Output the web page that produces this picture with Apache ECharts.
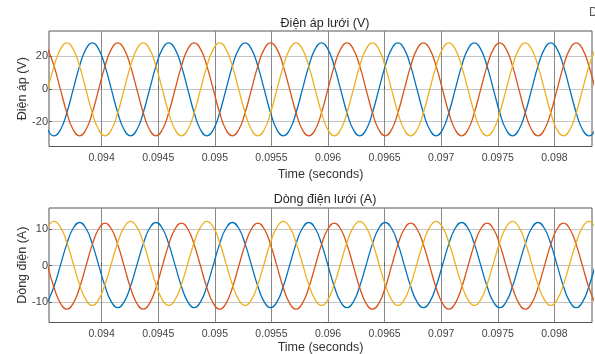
<!DOCTYPE html>
<html>
<head>
<meta charset="utf-8">
<script src="https://cdn.jsdelivr.net/npm/echarts@6/dist/echarts.min.js"></script>
<style>
html,body{margin:0;padding:0;background:#fff;}
#chart{width:595px;height:354px;}
</style>
</head>
<body>
<div id="chart"></div>
<script>
// Time samples (s)
var time = [
0.09352375,0.09358,0.09363625,0.0936925,0.09374875,0.093805,0.09386125,0.0939175,0.09397375,0.09403,0.09408625,0.0941425,
0.09419875,0.094255,0.09431125,0.0943675,0.09442375,0.09448,0.09453625,0.0945925,0.09464875,0.094705,0.09476125,0.0948175,
0.09487375,0.09493,0.09498625,0.0950425,0.09509875,0.095155,0.09521125,0.0952675,0.09532375,0.09538,0.09543625,0.0954925,
0.09554875,0.095605,0.09566125,0.0957175,0.09577375,0.09583,0.09588625,0.0959425,0.09599875,0.096055,0.09611125,0.0961675,
0.09622375,0.09628,0.09633625,0.0963925,0.09644875,0.096505,0.09656125,0.0966175,0.09667375,0.09673,0.09678625,0.0968425,
0.09689875,0.096955,0.09701125,0.0970675,0.09712375,0.09718,0.09723625,0.0972925,0.09734875,0.097405,0.09746125,0.0975175,
0.09757375,0.09763,0.09768625,0.0977425,0.09779875,0.097855,0.09791125,0.0979675,0.09802375,0.09808,0.09813625,0.0981925,
0.09824875,0.098305,0.09836125
];

// Grid voltage (V), three phases
var vA = [
-25.0,-28.8,-25.0,-14.6,-0.3,14.0,24.4,
28.2,24.4,14.0,-0.3,-14.6,-25.0,-28.8,-25.0,-14.6,-0.3,14.0,24.4,
28.2,24.4,14.0,-0.3,-14.6,-25.0,-28.8,-25.0,-14.6,-0.3,14.0,24.4,
28.2,24.4,14.0,-0.3,-14.6,-25.0,-28.8,-25.0,-14.6,-0.3,14.0,24.4,
28.2,24.4,14.0,-0.3,-14.6,-25.0,-28.8,-25.0,-14.6,-0.3,14.0,24.4,
28.2,24.4,14.0,-0.3,-14.6,-25.0,-28.8,-25.0,-14.6,-0.3,14.0,24.4,
28.2,24.4,14.0,-0.3,-14.6,-25.0,-28.8,-25.0,-14.6,-0.3,14.0,24.4,
28.2,24.4,14.0,-0.3,-14.6,-25.0,-28.8,-25.0
];
var vB = [
24.4,14.0,-0.3,-14.6,-25.0,-28.8,-25.0,-14.6,-0.3,14.0,24.4,
28.2,24.4,14.0,-0.3,-14.6,-25.0,-28.8,-25.0,-14.6,-0.3,14.0,24.4,
28.2,24.4,14.0,-0.3,-14.6,-25.0,-28.8,-25.0,-14.6,-0.3,14.0,24.4,
28.2,24.4,14.0,-0.3,-14.6,-25.0,-28.8,-25.0,-14.6,-0.3,14.0,24.4,
28.2,24.4,14.0,-0.3,-14.6,-25.0,-28.8,-25.0,-14.6,-0.3,14.0,24.4,
28.2,24.4,14.0,-0.3,-14.6,-25.0,-28.8,-25.0,-14.6,-0.3,14.0,24.4,
28.2,24.4,14.0,-0.3,-14.6,-25.0,-28.8,-25.0,-14.6,-0.3,14.0,24.4,
28.2,24.4,14.0,-0.3
];
var vC = [
-0.3,14.0,24.4,
28.2,24.4,14.0,-0.3,-14.6,-25.0,-28.8,-25.0,-14.6,-0.3,14.0,24.4,
28.2,24.4,14.0,-0.3,-14.6,-25.0,-28.8,-25.0,-14.6,-0.3,14.0,24.4,
28.2,24.4,14.0,-0.3,-14.6,-25.0,-28.8,-25.0,-14.6,-0.3,14.0,24.4,
28.2,24.4,14.0,-0.3,-14.6,-25.0,-28.8,-25.0,-14.6,-0.3,14.0,24.4,
28.2,24.4,14.0,-0.3,-14.6,-25.0,-28.8,-25.0,-14.6,-0.3,14.0,24.4,
28.2,24.4,14.0,-0.3,-14.6,-25.0,-28.8,-25.0,-14.6,-0.3,14.0,24.4,
28.2,24.4,14.0,-0.3,-14.6,-25.0,-28.8,-25.0,-14.6,-0.3,14.0,24.4
];

// Grid current (A), three phases
var iA = [
-10.0,-5.7,0.15,6.0,10.3,
11.9,10.3,6.0,0.15,-5.7,-10.0,-11.6,-10.0,-5.7,0.15,6.0,10.3,
11.9,10.3,6.0,0.15,-5.7,-10.0,-11.6,-10.0,-5.7,0.15,6.0,10.3,
11.9,10.3,6.0,0.15,-5.7,-10.0,-11.6,-10.0,-5.7,0.15,6.0,10.3,
11.9,10.3,6.0,0.15,-5.7,-10.0,-11.6,-10.0,-5.7,0.15,6.0,10.3,
11.9,10.3,6.0,0.15,-5.7,-10.0,-11.6,-10.0,-5.7,0.15,6.0,10.3,
11.9,10.3,6.0,0.15,-5.7,-10.0,-11.6,-10.0,-5.7,0.15,6.0,10.3,
11.9,10.3,6.0,0.15,-5.7,-10.0,-11.6,-10.0,-5.7,0.15
];
var iB = [
-0.15,-6.1,-10.4,-12.0,-10.4,-6.1,-0.15,5.8,10.1,
11.7,10.1,5.8,-0.15,-6.1,-10.4,-12.0,-10.4,-6.1,-0.15,5.8,10.1,
11.7,10.1,5.8,-0.15,-6.1,-10.4,-12.0,-10.4,-6.1,-0.15,5.8,10.1,
11.7,10.1,5.8,-0.15,-6.1,-10.4,-12.0,-10.4,-6.1,-0.15,5.8,10.1,
11.7,10.1,5.8,-0.15,-6.1,-10.4,-12.0,-10.4,-6.1,-0.15,5.8,10.1,
11.7,10.1,5.8,-0.15,-6.1,-10.4,-12.0,-10.4,-6.1,-0.15,5.8,10.1,
11.7,10.1,5.8,-0.15,-6.1,-10.4,-12.0,-10.4,-6.1,-0.15,5.8,10.1,
11.7,10.1,5.8,-0.15,-6.1,-10.4
];
var iC = [
10.6,
12.2,10.6,6.4,0.6,-5.2,-9.4,-11.0,-9.4,-5.2,0.6,6.4,10.6,
12.2,10.6,6.4,0.6,-5.2,-9.4,-11.0,-9.4,-5.2,0.6,6.4,10.6,
12.2,10.6,6.4,0.6,-5.2,-9.4,-11.0,-9.4,-5.2,0.6,6.4,10.6,
12.2,10.6,6.4,0.6,-5.2,-9.4,-11.0,-9.4,-5.2,0.6,6.4,10.6,
12.2,10.6,6.4,0.6,-5.2,-9.4,-11.0,-9.4,-5.2,0.6,6.4,10.6,
12.2,10.6,6.4,0.6,-5.2,-9.4,-11.0,-9.4,-5.2,0.6,6.4,10.6,
12.2,10.6,6.4,0.6,-5.2,-9.4,-11.0,-9.4,-5.2,0.6,6.4,10.6,
12.2,10.6
];

// Axis ticks
var xTicks = [0.094,0.0945,0.095,0.0955,0.096,0.0965,0.097,0.0975,0.098];
var vTicks = [-20,0,20];
var iTicks = [-10,0,10];

var FONT = "'Liberation Sans', Arial, sans-serif";
var COLORS = ['#0072BD','#D95319','#EDB120'];

function pairs(vals){ return time.map(function(t,i){ return [t, vals[i]]; }); }

function xAxisCfg(idx, gap){
  return {
    type:'value', gridIndex:idx, min:0.093535, max:0.098332,
    name:'Time (seconds)', nameLocation:'middle', nameGap:gap,
    nameTextStyle:{color:'#333', fontSize:12.5, fontFamily:FONT},
    axisLine:{show:false},
    axisTick:{show:true, inside:true, length:3, customValues:xTicks, lineStyle:{color:'#555'}},
    axisLabel:{customValues:xTicks, color:'#444', fontSize:10.5, fontFamily:FONT, margin:6.5,
      formatter:function(v){ return String(v); }},
    splitLine:{show:true, lineStyle:{color:'#888', width:1}}
  };
}
function yAxisCfg(idx, mn, mx, ticks, name){
  return {
    type:'value', gridIndex:idx, min:mn, max:mx,
    name:name, nameLocation:'middle', nameGap:20, nameMoveOverlap:false,
    nameTextStyle:{color:'#333', fontSize:12.5, fontFamily:FONT},
    axisLine:{show:false},
    axisTick:{show:true, inside:true, length:3, customValues:ticks, lineStyle:{color:'#555'}},
    axisLabel:{customValues:ticks, color:'#444', fontSize:11, fontFamily:FONT, margin:1},
    splitLine:{show:true, lineStyle:{color:'#c4c4c4', width:1}}
  };
}
function lineSeries(x, vals, c){
  return {type:'line', xAxisIndex:x, yAxisIndex:x, data:pairs(vals), smooth:0.5,
    showSymbol:false, symbol:'none', clip:true,
    lineStyle:{color:c, width:1.3}, itemStyle:{color:c}, animation:false};
}

var chart = echarts.init(document.getElementById('chart'), null, {renderer:'canvas'});
chart.setOption({
  animation:false,
  backgroundColor:'#fff',
  title:[
    {text:'Điện áp lưới (V)', left:320, top:12, textAlign:'center',
      textStyle:{fontSize:12.5, fontWeight:'normal', color:'#262626', fontFamily:FONT}},
    {text:'Dòng điện lưới (A)', left:320, top:188, textAlign:'center',
      textStyle:{fontSize:12.5, fontWeight:'normal', color:'#262626', fontFamily:FONT}}
  ],
  graphic:[{type:'text', left:589, top:7, style:{text:'D', fill:'#555', font:'12px '+FONT}}],
  grid:[
    {left:49, right:3, top:31, height:115.5, show:true, borderColor:'#555', borderWidth:1, backgroundColor:'#fff', outerBoundsMode:'none', containLabel:false},
    {left:49, right:3, top:208, height:114.5, show:true, borderColor:'#555', borderWidth:1, backgroundColor:'#fff', outerBoundsMode:'none', containLabel:false}
  ],
  xAxis:[xAxisCfg(0, 22), xAxisCfg(1, 19)],
  yAxis:[
    yAxisCfg(0, -35.3, 35.5, vTicks, 'Điện áp (V)'),
    yAxisCfg(1, -15.7, 15.9, iTicks, 'Dòng điện (A)')
  ],
  series:[
    lineSeries(0, vA, COLORS[0]),
    lineSeries(0, vB, COLORS[1]),
    lineSeries(0, vC, COLORS[2]),
    lineSeries(1, iA, COLORS[0]),
    lineSeries(1, iB, COLORS[1]),
    lineSeries(1, iC, COLORS[2])
  ]
});
</script>
</body>
</html>
